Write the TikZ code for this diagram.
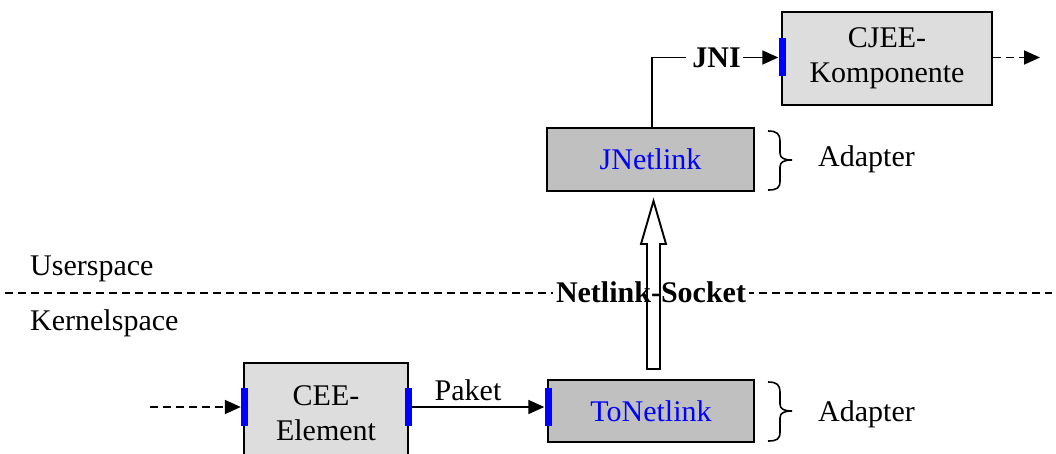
\documentclass[tikz,border=0pt]{standalone}
\usepackage{fontspec}
\setmainfont{Liberation Serif}
\usetikzlibrary{arrows.meta}
\definecolor{boxlight}{HTML}{DDDDDD}
\definecolor{boxdark}{HTML}{C0C0C0}
\definecolor{portblue}{HTML}{0000FF}
\newcommand{\bigfont}{\fontsize{30}{35}\selectfont}
\tikzset{
  block/.style={draw, line width=2pt, inner sep=0pt, align=center, font=\bigfont},
  lightblock/.style={block, fill=boxlight},
  darkblock/.style={block, fill=boxdark, text=portblue},
  port/.style={fill=portblue, draw=none, minimum width=7pt, minimum height=38pt, inner sep=0pt},
  lbl/.style={inner sep=0pt, font=\bigfont},
  boldlbl/.style={inner sep=0pt, font=\bigfont\bfseries},
  flow/.style={line width=1.7pt, -{Triangle[length=16pt,width=14pt]}},
  dashflow/.style={flow, dash pattern=on 8pt off 5pt},
  brace/.style={line width=1.6pt},
}
\begin{document}
\begin{tikzpicture}[x=1pt, y=-1pt]
\clip (0,0) rectangle (1056,454);
\fill[white] (0,0) rectangle (1056,454);

% boundary between user space and kernel space
\draw[line width=1.6pt, dash pattern=on 8pt off 5pt] (5,293) -- (1052,293);
\node[lbl, anchor=base west] (user) at (30,275) {Userspace};
\node[lbl, anchor=base west] (kernel) at (30,330) {Kernelspace};
\node[boldlbl, fill=white, inner xsep=3pt, inner ysep=2pt, anchor=base] (sock) at (651,302) {Netlink-Socket};

% blocks
\node[lightblock, minimum width=210pt, minimum height=93pt] (cjee) at (887,58.5) {CJEE-\\Komponente};
\node[darkblock, minimum width=207pt, minimum height=63pt] (jnet) at (650.5,159.5) {JNetlink};
\node[lightblock, minimum width=164pt, minimum height=100pt] (cee) at (326,413) {CEE-\\Element};
\node[darkblock, minimum width=206pt, minimum height=62pt] (tonet) at (651,411) {ToNetlink};

% ports
\node[port] (cjeein) at (782,57.5) {};
\node[port] (ceein) at (244.5,407) {};
\node[port] (ceeout) at (408,407) {};
\node[port] (tonetin) at (548,407) {};

% connectors
\coordinate (src) at (150,407);
\coordinate (sink) at (1040,57.5);
\draw[dashflow] (src) -- (ceein.west);
\draw[flow] (ceeout.east) -- (tonetin.west);
\node[lbl, anchor=base] (paket) at (468,400) {Paket};
\draw[dashflow] (cjee.east |- cjeein) -- (sink);

\node[boldlbl, anchor=base] (jni) at (716.5,68) {JNI};
\draw[line width=1.7pt] (jnet.north -| 652,0) |- ([xshift=-6pt]jni.west |- cjeein);
\draw[flow] ([xshift=2pt]jni.east |- cjeein) -- (cjeein.west);

% hollow arrow through the netlink socket
\draw[line width=1.9pt, line join=miter]
  (647,369) -- (647,244) -- (641,244) -- (653.5,201) -- (666,244) -- (660,244) -- (660,369) -- cycle;

% adapter braces
\draw[brace] (768,131) .. controls (777,131) and (780,134) .. (780,141) -- (780,153)
  .. controls (780,158) and (784,160) .. (792,160)
  .. controls (784,160) and (780,162) .. (780,167) -- (780,181)
  .. controls (780,188) and (777,190) .. (768,190);
\node[lbl, anchor=base west] (adapt1) at (818,167) {Adapter};
\draw[brace] (768,382) .. controls (777,382) and (780,385) .. (780,392) -- (780,404)
  .. controls (780,409) and (784,411) .. (792,411)
  .. controls (784,411) and (780,413) .. (780,418) -- (780,432)
  .. controls (780,439) and (777,441) .. (768,441);
\node[lbl, anchor=base west] (adapt2) at (818,421) {Adapter};
\end{tikzpicture}
\end{document}
